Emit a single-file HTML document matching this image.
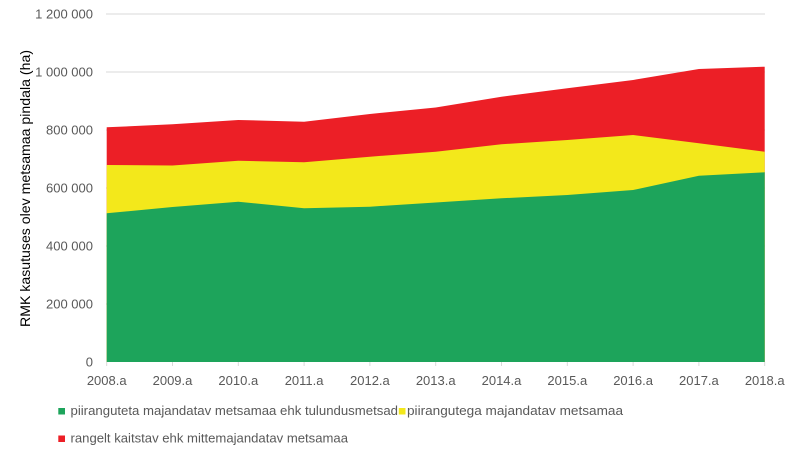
<!DOCTYPE html>
<html>
<head>
<meta charset="utf-8">
<style>
html,body{margin:0;padding:0;background:#fff;}
svg{display:block;}
text{font-family:"Liberation Sans",sans-serif;}
</style>
</head>
<body>
<svg width="800" height="455" viewBox="0 0 800 455" xmlns="http://www.w3.org/2000/svg">
<rect width="800" height="455" fill="#fff"/>
<!-- gridlines -->
<g stroke="#d9d9d9" stroke-width="1">
<line x1="106" y1="14" x2="765" y2="14"/>
<line x1="106" y1="72" x2="765" y2="72"/>
<line x1="106" y1="130" x2="765" y2="130"/>
<line x1="106" y1="188" x2="765" y2="188"/>
<line x1="106" y1="246" x2="765" y2="246"/>
<line x1="106" y1="304" x2="765" y2="304"/>
</g>
<!-- red area (total) -->
<polygon fill="#ec1f26" points="106.7,362 106.7,127.3 172.5,124.3 238.3,120 304.1,121.7 369.9,114 435.7,107.5 501.5,96.7 567.3,88.3 633.1,80 698.9,69 764.7,66.7 764.7,362"/>
<!-- yellow area -->
<polygon fill="#f3e81b" points="106.7,362 106.7,165 172.5,165.5 238.3,160.7 304.1,162.3 369.9,156.7 435.7,151.7 501.5,144.3 567.3,140 633.1,135 698.9,143.3 764.7,151.7 764.7,362"/>
<!-- green area -->
<polygon fill="#1da45b" points="106.7,362 106.7,213.3 172.5,207 238.3,201.7 304.1,208.3 369.9,206.7 435.7,202.5 501.5,198.3 567.3,195 633.1,190 698.9,175.7 764.7,172.3 764.7,362"/>
<!-- x ticks -->
<g stroke="#d9d9d9" stroke-width="1">
<line x1="106.7" y1="362" x2="106.7" y2="366"/>
<line x1="172.5" y1="362" x2="172.5" y2="366"/>
<line x1="238.3" y1="362" x2="238.3" y2="366"/>
<line x1="304.1" y1="362" x2="304.1" y2="366"/>
<line x1="369.9" y1="362" x2="369.9" y2="366"/>
<line x1="435.7" y1="362" x2="435.7" y2="366"/>
<line x1="501.5" y1="362" x2="501.5" y2="366"/>
<line x1="567.3" y1="362" x2="567.3" y2="366"/>
<line x1="633.1" y1="362" x2="633.1" y2="366"/>
<line x1="698.9" y1="362" x2="698.9" y2="366"/>
<line x1="764.7" y1="362" x2="764.7" y2="366"/>
</g>
<!-- y labels -->
<g fill="#595959" font-size="13" text-anchor="end">
<text x="93" y="18.5">1 200 000</text>
<text x="93" y="76.5">1 000 000</text>
<text x="93" y="134.5">800 000</text>
<text x="93" y="192.5">600 000</text>
<text x="93" y="250.5">400 000</text>
<text x="93" y="308.5">200 000</text>
<text x="93" y="366.5">0</text>
</g>
<!-- x labels -->
<g fill="#595959" font-size="13" text-anchor="middle">
<text x="106.7" y="385">2008.a</text>
<text x="172.5" y="385">2009.a</text>
<text x="238.3" y="385">2010.a</text>
<text x="304.1" y="385">2011.a</text>
<text x="369.9" y="385">2012.a</text>
<text x="435.7" y="385">2013.a</text>
<text x="501.5" y="385">2014.a</text>
<text x="567.3" y="385">2015.a</text>
<text x="633.1" y="385">2016.a</text>
<text x="698.9" y="385">2017.a</text>
<text x="764.7" y="385">2018.a</text>
</g>
<!-- y axis title -->
<text transform="translate(30,327) rotate(-90)" font-size="14" fill="#000" textLength="277" lengthAdjust="spacingAndGlyphs">RMK kasutuses olev metsamaa pindala (ha)</text>
<!-- legend -->
<rect x="58.3" y="408" width="6.7" height="6.5" fill="#1da45b"/>
<text x="70.5" y="415" font-size="12.5" fill="#595959" textLength="327.5" lengthAdjust="spacingAndGlyphs">piiranguteta majandatav metsamaa ehk tulundusmetsad</text>
<rect x="398.8" y="408" width="6.7" height="6.5" fill="#f3e81b"/>
<text x="407" y="415" font-size="12.5" fill="#595959" textLength="216" lengthAdjust="spacingAndGlyphs">piirangutega majandatav metsamaa</text>
<rect x="58.3" y="435.5" width="6.7" height="6.5" fill="#ec1f26"/>
<text x="70.5" y="442.3" font-size="12.5" fill="#595959" textLength="277.5" lengthAdjust="spacingAndGlyphs">rangelt kaitstav ehk mittemajandatav metsamaa</text>
</svg>
</body>
</html>
